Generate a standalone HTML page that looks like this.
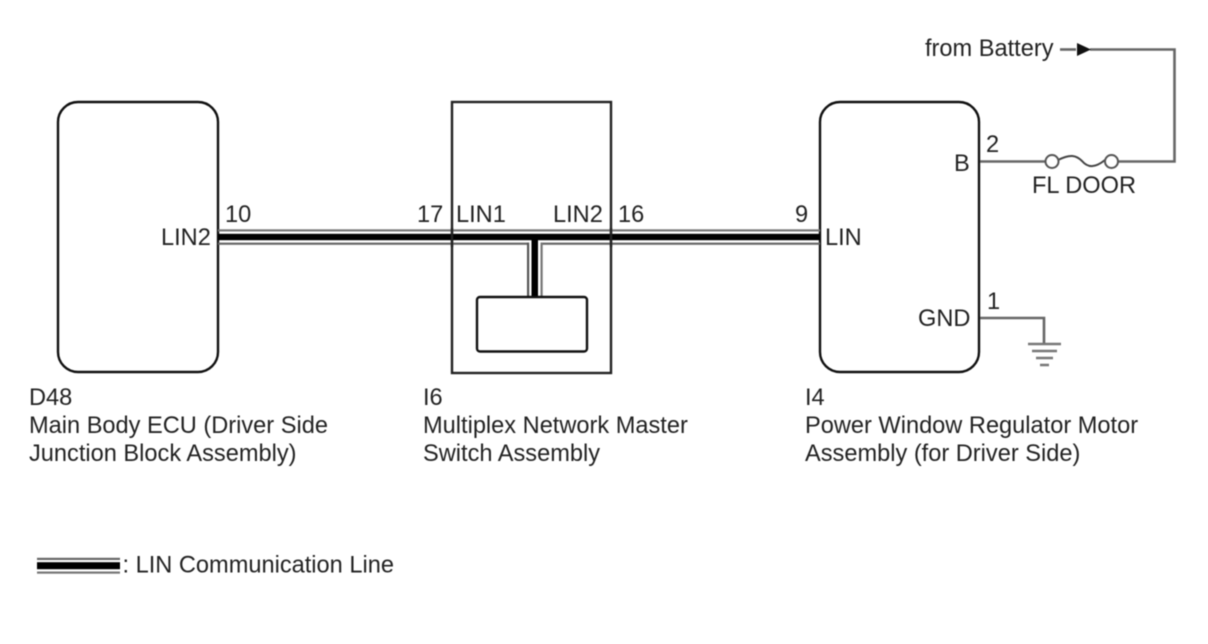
<!DOCTYPE html>
<html>
<head>
<meta charset="utf-8">
<style>
html,body{margin:0;padding:0;background:#fff;}
svg{display:block;filter:blur(0.45px);}
text{font-family:"Liberation Sans",sans-serif;font-size:23.600px;fill:#222;}
</style>
</head>
<body>
<svg width="1208" height="644" viewBox="0 0 1208 644" xmlns="http://www.w3.org/2000/svg">
<g fill="none" stroke="#111" stroke-width="2.400">
<rect x="58" y="102" width="160" height="270" rx="20"/>
<rect x="452" y="102" width="159" height="271" stroke="#222"/>
<rect x="820" y="102" width="159" height="270" rx="20"/>
</g>
<!-- LIN bus -->
<rect x="218" y="229.300" width="602" height="2.200" fill="#777"/>
<rect x="218" y="233.800" width="602" height="6.400" fill="#000"/>
<rect x="218" y="242.600" width="602" height="2.200" fill="#666"/>
<!-- vertical walls on top -->
<rect x="450.800" y="228" width="2.400" height="19" fill="#222"/>
<rect x="609.800" y="228" width="2.400" height="19" fill="#222"/>
<!-- branch -->
<rect x="529" y="241" width="11.500" height="57" fill="#fff"/>
<rect x="527" y="242.600" width="2.200" height="54.500" fill="#555"/>
<rect x="531.500" y="240" width="6.500" height="57" fill="#000"/>
<rect x="540.500" y="242.600" width="2.200" height="54.500" fill="#777"/>
<rect x="477" y="297" width="110" height="54.500" rx="3" fill="#fff" stroke="#111" stroke-width="2.400"/>
<!-- B wiring -->
<g fill="none" stroke="#666" stroke-width="2.600">
<path d="M980 161.500H1045"/>
<path d="M1118 161.500H1174.500V49.500H1090"/>
<path d="M1060 49.500H1076"/>
<path d="M1058 160C1070 154 1076 155 1082 161C1088 168 1095 168 1105 160" stroke="#444" stroke-width="2"/>
<circle cx="1052" cy="161.500" r="6.500" stroke="#555" stroke-width="2"/>
<circle cx="1111.500" cy="161.500" r="6.500" stroke="#555" stroke-width="2"/>
<path d="M980 318H1044V344"/>
<path d="M1028 344H1061M1032 351H1057M1036 358H1053M1040 365H1049" stroke="#777"/>
</g>
<path d="M1077 43L1091 49.500L1077 56Z" fill="#111"/>
<!-- legend -->
<rect x="37" y="557.800" width="83" height="2.200" fill="#666"/>
<rect x="37" y="562.200" width="83" height="7" fill="#000"/>
<rect x="37" y="571.500" width="83" height="2.200" fill="#777"/>
<!-- labels -->
<text x="925" y="56">from Battery</text>
<text x="986" y="152">2</text>
<text x="954" y="171">B</text>
<text x="1032" y="193">FL DOOR</text>
<text x="225" y="222">10</text>
<text x="417" y="222">17</text>
<text x="456" y="222">LIN1</text>
<text x="553" y="222">LIN2</text>
<text x="618" y="222">16</text>
<text x="795" y="222">9</text>
<text x="161" y="245">LIN2</text>
<text x="825" y="245">LIN</text>
<text x="987" y="309">1</text>
<text x="918" y="326">GND</text>
<text x="29" y="405">D48</text>
<text x="29" y="433">Main Body ECU (Driver Side</text>
<text x="29" y="461">Junction Block Assembly)</text>
<text x="423" y="405">I6</text>
<text x="423" y="433">Multiplex Network Master</text>
<text x="423" y="461">Switch Assembly</text>
<text x="805" y="405">I4</text>
<text x="805" y="433">Power Window Regulator Motor</text>
<text x="805" y="461">Assembly (for Driver Side)</text>
<text x="122.500" y="572.500">: LIN Communication Line</text>
</svg>
</body>
</html>
